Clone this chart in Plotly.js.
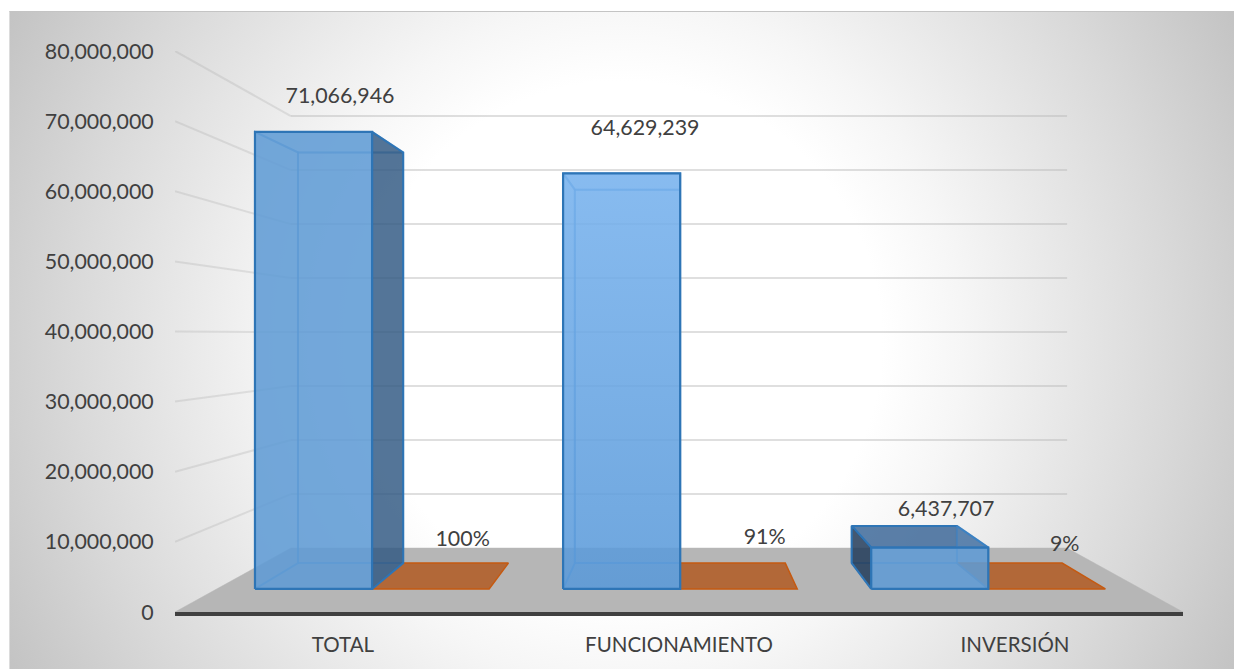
<!DOCTYPE html>
<html>
<head>
<meta charset="utf-8">
<script src="https://cdn.plot.ly/plotly-3.0.1.min.js"></script>
<style>
html,body{margin:0;padding:0;background:#fff;width:1234px;height:669px;overflow:hidden}
#panel{position:absolute;left:9px;top:11px;width:1225px;height:658px;box-sizing:border-box;border-top:1px solid #c4c4c4;border-left:1px solid #dcdcdc;
background:radial-gradient(circle 780px at 612px 329px,#fff 0,#fff 260px,#f6f6f6 340px,#d9d9d9 550px,#c4c4c4 690px,#bcbcbc 780px)}
#chart{position:absolute;left:0;top:0;width:1234px;height:669px}
</style>
</head>
<body>
<div id="panel"></div>
<div id="chart"></div>
<script>
// ---- data ----
const categories = ['TOTAL', 'FUNCIONAMIENTO', 'INVERSIÓN'];
const budget = [71066946, 64629239, 6437707];
const share = [1, 0.91, 0.09];
const yTicks = [0, 10000000, 20000000, 30000000, 40000000, 50000000, 60000000, 70000000, 80000000];

// ---- label anchors, in axis units ----
const budgetLabelX = [0.491, 1.399, 2.295];
const budgetLabelY = [73300000, 68750000, 14400000];
const shareLabelX = [0.856, 1.755, 2.648];
const shareLabelY = [10200000, 10500000, 9500000];

// ---- 3D look: central projection of the axis coordinates ----
const vanishX = 1.5, vanishV = 39640000;
const depthBack = 0.77, depthBarFront = 0.917, depthBarBack = 0.824;
const barStart = 0.1238, barWidth = 0.38;
const P = (x, v, s) => [vanishX + (x - vanishX) * s, vanishV + (v - vanishV) * s];

const FONT = 'Lato, "Open Sans", sans-serif';
const TEXT = '#404040';
const traces = [];
function poly(points, fill, line, width, gradient) {
  const pts = points.concat([points[0]]);
  const t = {
    type: 'scatter', mode: 'lines', x: pts.map(p => p[0]), y: pts.map(p => p[1]),
    fill: 'toself', fillcolor: fill, line: {color: line, width: width},
    hoverinfo: 'skip', showlegend: false
  };
  if (gradient) t.fillgradient = gradient;
  traces.push(t);
}
function seg(a, b, color, width) {
  traces.push({type: 'scatter', mode: 'lines', x: [a[0], b[0]], y: [a[1], b[1]],
    line: {color: color, width: width}, hoverinfo: 'skip', showlegend: false});
}

// floor
poly([P(0,0,1), P(3,0,1), P(3,0,depthBack), P(0,0,depthBack)], '#b6b6b6', '#b6b6b6', 0.5);
// side wall and back wall gridlines
yTicks.slice(1).forEach(v => {
  seg(P(0,v,1), P(0,v,depthBack), 'rgba(170,170,170,0.28)', 2);
  seg(P(0,v,depthBack), P(3,v,depthBack), 'rgba(185,185,185,0.45)', 2);
});

// orange share bars (almost flat on the 80M scale)
categories.forEach((c, i) => {
  const a = i + barStart + barWidth, b = a + barWidth, h = share[i];
  poly([P(a,h,depthBarFront), P(b,h,depthBarFront), P(b,h,depthBarBack), P(a,h,depthBarBack)],
       '#b26838', '#c55a11', 1.5);
});

// blue budget bars
const EDGE = '#2e75b6', SOFT = 'rgba(70,140,205,0.5)';
const LIGHT = 'rgba(95,155,213,0.16)', FRONT = 'rgba(95,155,213,0.85)';
const gradFront = {type: 'vertical', colorscale: [[0,'rgba(89,153,217,0.85)'],[1,'rgba(119,178,238,0.85)']]};
categories.forEach((c, i) => {
  const x0 = i + barStart, x1 = x0 + barWidth, h = budget[i];
  const f = depthBarFront, k = depthBarBack;
  const outerRight = P(x1,0,k)[0] > P(x1,0,f)[0] + 0.02;
  const outerLeft  = P(x0,0,k)[0] < P(x0,0,f)[0] - 0.02;
  const outerTop   = P(x0,h,k)[1] > P(x0,h,f)[1];
  // back, bottom
  poly([P(x0,0,k), P(x1,0,k), P(x1,h,k), P(x0,h,k)], LIGHT, SOFT, 2);
  poly([P(x0,0,f), P(x1,0,f), P(x1,0,k), P(x0,0,k)], LIGHT, SOFT, 1.5);
  // top
  poly([P(x0,h,f), P(x1,h,f), P(x1,h,k), P(x0,h,k)],
       outerTop ? 'rgba(52,96,146,0.78)' : LIGHT, outerTop ? EDGE : SOFT, 2);
  // left, right
  poly([P(x0,0,f), P(x0,h,f), P(x0,h,k), P(x0,0,k)],
       outerLeft ? 'rgba(32,56,86,0.82)' : LIGHT, outerLeft ? EDGE : SOFT, 2);
  poly([P(x1,0,f), P(x1,h,f), P(x1,h,k), P(x1,0,k)],
       outerRight ? 'rgba(48,86,128,0.8)' : LIGHT, outerRight ? EDGE : SOFT, 2);
  // front
  poly([P(x0,0,f), P(x1,0,f), P(x1,h,f), P(x0,h,f)], FRONT, EDGE, 2.2, i === 1 ? gradFront : null);
});

// data labels
traces.push({type: 'scatter', mode: 'text', x: budgetLabelX, y: budgetLabelY,
  text: budget.map(v => v.toLocaleString('en-US')), textposition: 'middle center',
  textfont: {family: FONT, size: 21.4, color: TEXT}, hoverinfo: 'skip', showlegend: false});
traces.push({type: 'scatter', mode: 'text', x: shareLabelX, y: shareLabelY,
  text: share.map(v => Math.round(v * 100) + '%'), textposition: 'middle center',
  textfont: {family: FONT, size: 21.4, color: TEXT}, hoverinfo: 'skip', showlegend: false});

const layout = {
  width: 1234, height: 669, autosize: false,
  margin: {l: 175, r: 51, t: 51, b: 57, pad: 0},
  paper_bgcolor: 'rgba(0,0,0,0)', plot_bgcolor: 'rgba(0,0,0,0)',
  showlegend: false,
  font: {family: FONT, color: TEXT},
  xaxis: {
    range: [0, 3], tickmode: 'array', tickvals: [0.5, 1.5, 2.5], ticktext: categories,
    showgrid: false, zeroline: false, showline: true, linecolor: '#404040', linewidth: 3.5,
    ticks: 'outside', ticklen: 12, tickcolor: 'rgba(0,0,0,0)',
    tickfont: {family: FONT, size: 20.5, color: TEXT}, fixedrange: true
  },
  yaxis: {
    range: [0, 80000000], tickmode: 'array', tickvals: yTicks, tickformat: ',d',
    showgrid: false, zeroline: false, showline: false,
    ticks: 'outside', ticklen: 16, tickcolor: 'rgba(0,0,0,0)',
    tickfont: {family: FONT, size: 21.4, color: TEXT}, fixedrange: true
  }
};
Plotly.newPlot('chart', traces, layout, {displayModeBar: false, staticPlot: true});
</script>
</body>
</html>
